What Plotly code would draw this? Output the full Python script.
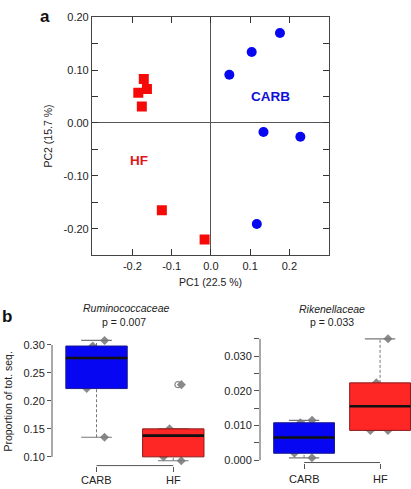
import math
import numpy as np
import plotly.graph_objects as go

W, H = 411, 489

# ---------------- Panel a: PCA scores ----------------
hf_pc1 = [-0.171, -0.163, -0.185, -0.176, -0.125, -0.016]
hf_pc2 = [0.083, 0.064, 0.057, 0.031, -0.165, -0.220]
carb_pc1 = [0.176, 0.104, 0.047, 0.134, 0.228, 0.117]
carb_pc2 = [0.170, 0.134, 0.091, -0.017, -0.026, -0.191]

pc_x_ticks = [-0.2, -0.1, 0.0, 0.1, 0.2]
pc_y_ticks = [-0.20, -0.15, -0.10, -0.05, 0.00, 0.05, 0.10, 0.15, 0.20]

# ---------------- Panel b: relative abundances ----------------
groups = ["CARB", "HF"]
group_pos = [1, 2]
rumino_carb = [0.308, 0.298, 0.283, 0.270, 0.222, 0.135]
rumino_hf = [0.229, 0.150, 0.139, 0.137, 0.100, 0.093]
riken_carb = [0.0115, 0.0108, 0.0091, 0.0040, 0.0020, 0.0007]
riken_hf = [0.035, 0.0223, 0.0192, 0.0119, 0.0086, 0.0086]

rumino_ticks = [0.10, 0.15, 0.20, 0.25, 0.30]
riken_ticks = [0.000, 0.005, 0.010, 0.015, 0.020, 0.025, 0.030, 0.035]

BLUE = "#0606F2"
RED = "#FF2626"
FONT = "Liberation Sans, Arial, Helvetica, sans-serif"


def px(x):
    return x / W


def py(y):
    return 1 - y / H


def fivenum(v):
    s = sorted(v)
    n = len(s)
    n4 = math.floor((n + 3) / 2) / 2
    d = [1, n4, (n + 1) / 2, n + 1 - n4, n]
    return [0.5 * (s[math.floor(k - 1)] + s[math.ceil(k - 1)]) for k in d]


fig = go.Figure()

# panel a
fig.add_trace(go.Scatter(x=hf_pc1, y=hf_pc2, mode="markers", xaxis="x", yaxis="y",
                         marker=dict(symbol="square", size=10, color="#F50A0A"),
                         showlegend=False, hoverinfo="skip"))
fig.add_trace(go.Scatter(x=carb_pc1, y=carb_pc2, mode="markers", xaxis="x", yaxis="y",
                         marker=dict(symbol="circle", size=10, color="#0707F0"),
                         showlegend=False, hoverinfo="skip"))


def add_box(vals, pos, fill, border, xa, ya, boxw=0.8):
    mn, q1, med, q3, mx = fivenum(vals)
    iqr = q3 - q1
    inside = [v for v in vals if q1 - 1.5 * iqr <= v <= q3 + 1.5 * iqr]
    outl = [v for v in vals if v not in inside]
    lo, hi = min(inside), max(inside)
    h = boxw / 2
    c = boxw / 4
    # whiskers (dashed)
    for a, b in ((q3, hi), (lo, q1)):
        if b > a:
            fig.add_trace(go.Scatter(x=[pos, pos], y=[a, b], mode="lines", xaxis=xa, yaxis=ya,
                                     line=dict(color="#777777", width=1, dash="3px,2px"),
                                     showlegend=False, hoverinfo="skip"))
    # staples
    for v in (lo, hi):
        fig.add_trace(go.Scatter(x=[pos - c, pos + c], y=[v, v], mode="lines", xaxis=xa, yaxis=ya,
                                 line=dict(color="#777777", width=1.2),
                                 showlegend=False, hoverinfo="skip"))
    # box
    fig.add_trace(go.Scatter(x=[pos - h, pos + h, pos + h, pos - h, pos - h],
                             y=[q1, q1, q3, q3, q1], mode="lines", fill="toself",
                             fillcolor=fill, line=dict(color=border, width=1),
                             xaxis=xa, yaxis=ya, showlegend=False, hoverinfo="skip"))
    # median
    fig.add_trace(go.Scatter(x=[pos - h, pos + h], y=[med, med], mode="lines",
                             line=dict(color="#111111", width=2.6), xaxis=xa, yaxis=ya,
                             showlegend=False, hoverinfo="skip"))
    # outliers
    if outl:
        fig.add_trace(go.Scatter(x=[pos + 0.06] * len(outl), y=outl, mode="markers",
                                 marker=dict(symbol="circle-open", size=6, color="#888888",
                                             line=dict(width=1.2)),
                                 xaxis=xa, yaxis=ya, showlegend=False, hoverinfo="skip"))
    # individual samples
    fig.add_trace(go.Box(x=[pos] * len(vals), y=vals, boxpoints="all", jitter=0.5, pointpos=0,
                         width=boxw, fillcolor="rgba(0,0,0,0)",
                         line=dict(width=0, color="rgba(0,0,0,0)"), whiskerwidth=0,
                         marker=dict(symbol="diamond", size=7, color="#8A8A8A"),
                         xaxis=xa, yaxis=ya, showlegend=False, hoverinfo="skip"))


add_box(rumino_carb, group_pos[0], BLUE, "#1A1A8C", "x2", "y2")
add_box(rumino_hf, group_pos[1], RED, "#8C1A1A", "x2", "y2")
add_box(riken_carb, group_pos[0], BLUE, "#1A1A8C", "x3", "y3")
add_box(riken_hf, group_pos[1], RED, "#8C1A1A", "x3", "y3")

tickfont = dict(family=FONT, size=11, color="#222222")

layout = dict(
    width=W, height=H, margin=dict(l=0, r=0, t=0, b=0),
    paper_bgcolor="white", plot_bgcolor="white",
    font=dict(family=FONT, size=11, color="#222222"),
    boxmode="overlay",
    xaxis=dict(domain=[px(92), px(329)], range=[-0.303, 0.301], anchor="y",
               tickvals=pc_x_ticks, ticktext=[f"{v:.1f}" for v in pc_x_ticks],
               ticks="inside", ticklen=6, tickcolor="#333333", tickwidth=1.2,
               showline=True, mirror="ticks", linecolor="#444444", linewidth=1.2,
               showgrid=False, zeroline=True, zerolinecolor="#555555", zerolinewidth=1.2,
               tickfont=tickfont),
    yaxis=dict(domain=[py(254), py(11)], range=[-0.25, 0.2005], anchor="x",
               tickvals=pc_y_ticks,
               ticktext=[f"{v:.2f}" if round(v * 100) % 10 == 0 else "" for v in pc_y_ticks],
               ticks="inside", ticklen=6, tickcolor="#333333", tickwidth=1.2,
               showline=True, mirror="ticks", linecolor="#444444", linewidth=1.2,
               showgrid=False, zeroline=True, zerolinecolor="#555555", zerolinewidth=1.2,
               tickfont=tickfont),
    xaxis2=dict(domain=[px(52), px(217.8)], range=[0.42, 2.58], anchor="y2",
                tickvals=group_pos, showticklabels=False, ticks="outside", ticklen=5,
                tickcolor="#555555", showline=False, showgrid=False, zeroline=False),
    yaxis2=dict(domain=[py(468.2), py(335.8)], range=[0.0844, 0.3166], anchor="x2",
                tickvals=rumino_ticks, ticktext=[f"{v:.2f}" for v in rumino_ticks],
                ticks="outside", ticklen=4, tickcolor="#555555", showline=False,
                showgrid=False, zeroline=False, tickfont=tickfont),
    xaxis3=dict(domain=[px(260), 1.0], range=[0.42, 2.407], anchor="y3",
                tickvals=group_pos, showticklabels=False, ticks="outside", ticklen=5,
                tickcolor="#555555", showline=False, showgrid=False, zeroline=False),
    yaxis3=dict(domain=[py(465.1), py(334.2)], range=[-0.00067, 0.03637], anchor="x3",
                tickvals=riken_ticks,
                ticktext=[f"{v:.3f}" if round(v * 1000) % 10 == 0 else "" for v in riken_ticks],
                ticks="outside", ticklen=5, tickcolor="#555555", showline=False,
                showgrid=False, zeroline=False, tickfont=tickfont),
)

shapes = [
    # R-style axis lines
    dict(type="line", xref="x2 domain", yref="y2", x0=0, x1=0,
         y0=rumino_ticks[0], y1=rumino_ticks[-1], line=dict(color="#555555", width=1)),
    dict(type="line", xref="x2", yref="y2 domain", x0=group_pos[0], x1=group_pos[1], y0=0, y1=0,
         line=dict(color="#555555", width=1)),
    dict(type="line", xref="x3 domain", yref="y3", x0=0, x1=0,
         y0=riken_ticks[0], y1=riken_ticks[-1], line=dict(color="#555555", width=1)),
    dict(type="line", xref="x3", yref="y3 domain", x0=group_pos[0], x1=group_pos[1], y0=0, y1=0,
         line=dict(color="#555555", width=1)),
]
layout["shapes"] = shapes


def ann(text, x, y, size=10.5, color="#222222", bold=False, italic=False, angle=0,
        xanchor="center", yanchor="middle", xref="paper", yref="paper"):
    t = text
    if bold:
        t = f"<b>{t}</b>"
    if italic:
        t = f"<i>{t}</i>"
    return dict(text=t, x=x, y=y, xref=xref, yref=yref, showarrow=False,
                xanchor=xanchor, yanchor=yanchor, textangle=angle,
                font=dict(family=FONT, size=size, color=color))


annotations = [
    ann("a", px(45), py(11), size=17, color="#111111", bold=True),
    ann("b", px(7), py(316), size=17, color="#111111", bold=True),
    ann("PC1 (22.5 %)", px(210), py(281)),
    ann("PC2 (15.7 %)", px(48), py(133), angle=-90),
    ann("CARB", 0.152, 0.050, size=13.5, color="#1010D8", bold=True, xref="x", yref="y"),
    ann("HF", -0.183, -0.070, size=13.5, color="#E01818", bold=True, xref="x", yref="y"),
    ann("Ruminococcaceae", px(126), py(308), italic=True),
    ann("p = 0.007", px(124), py(322)),
    ann("Rikenellaceae", px(332), py(309), italic=True),
    ann("p = 0.033", px(332), py(322)),
    ann("Proportion of tot. seq.", px(8), py(403), angle=-90),
]
for g, p in zip(groups, group_pos):
    annotations.append(ann(g, p, py(483), size=11, xref="x2"))
    annotations.append(ann(g, p, py(482), size=11, xref="x3"))
layout["annotations"] = annotations

fig.update_layout(**layout)
fig.write_html("out.html", config={"displayModeBar": False},
               post_script="document.body.style.margin='0px';document.body.style.padding='0px';")
